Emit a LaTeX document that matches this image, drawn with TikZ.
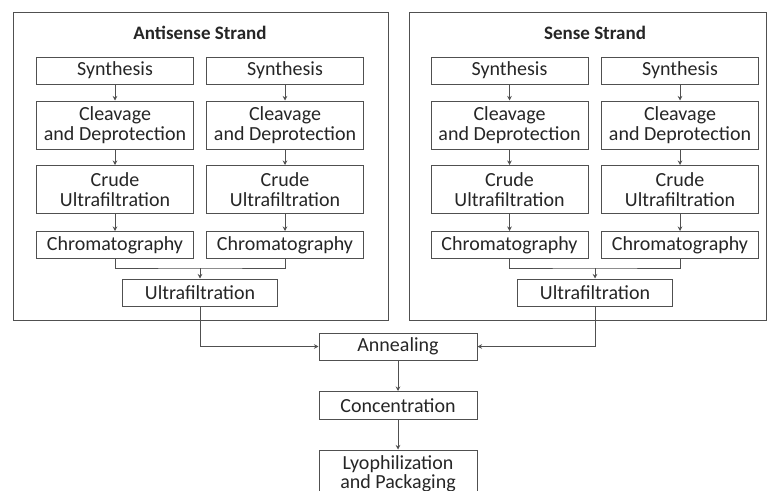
\documentclass[tikz,border=0pt]{standalone}
\usepackage{fontspec}
\setmainfont{Carlito}
\usetikzlibrary{arrows.meta}
\definecolor{linegray}{HTML}{505050}
\definecolor{textgray}{HTML}{262626}

\begin{document}
\begin{tikzpicture}[x=1pt,y=-1pt,
    stagebox/.style={draw=linegray,
        line width=1pt,
        minimum width=157pt,
        minimum height=27pt,
        align=center,
        text=textgray,
        inner sep=1pt,
        font=\fontsize{20}{19.5}\selectfont},
    tallbox/.style={stagebox, minimum height=48pt},
    flow/.style={draw=linegray, line width=0.8pt},
    flowarrow/.style={flow, -{Stealth[length=4.5pt,width=4.5pt]}}]

\clip (0,0) rectangle (767,490);
\fill[white] (0,0) rectangle (767,490);

% Strand frames
\draw[linegray, line width=1pt] (13,12) rectangle (388,320);
\draw[linegray, line width=1pt] (409,12) rectangle (766,320);
\node[text=textgray, font=\fontsize{19}{20}\selectfont\bfseries] (AT) at (200,33) {Antisense Strand};
\node[text=textgray, font=\fontsize{19}{20}\selectfont\bfseries] (ST) at (595,33) {Sense Strand};

% Antisense columns
\node[stagebox] (AS1) at (115,70.5) {Synthesis};
\node[tallbox] (AC1) at (115,125) {Cleavage\\and Deprotection};
\node[tallbox] (AU1) at (115,189.5) {Crude\\Ultrafiltration};
\node[stagebox] (AH1) at (115,245) {Chromatography};

\node[stagebox] (AS2) at (285,70.5) {Synthesis};
\node[tallbox] (AC2) at (285,125) {Cleavage\\and Deprotection};
\node[tallbox] (AU2) at (285,189.5) {Crude\\Ultrafiltration};
\node[stagebox] (AH2) at (285,245) {Chromatography};

\node[stagebox, minimum width=155pt] (AF) at (200,292.5) {Ultrafiltration};

% Sense columns
\node[stagebox] (SS1) at (509.5,70.5) {Synthesis};
\node[tallbox] (SC1) at (509.5,125) {Cleavage\\and Deprotection};
\node[tallbox] (SU1) at (509.5,189.5) {Crude\\Ultrafiltration};
\node[stagebox] (SH1) at (509.5,245) {Chromatography};

\node[stagebox] (SS2) at (680,70.5) {Synthesis};
\node[tallbox] (SC2) at (680,125) {Cleavage\\and Deprotection};
\node[tallbox] (SU2) at (680,189.5) {Crude\\Ultrafiltration};
\node[stagebox] (SH2) at (680,245) {Chromatography};

\node[stagebox, minimum width=155pt] (SF) at (595,292.5) {Ultrafiltration};

% Common steps
\node[stagebox, minimum width=158pt] (AN) at (398,346.5) {Annealing};
\node[stagebox, minimum width=158pt, minimum height=28pt] (CO) at (398,405.5) {Concentration};
\node[tallbox, minimum width=158pt] (LY) at (398,474) {Lyophilization\\and Packaging};

% Column arrows
\foreach \col in {AS1/AC1/AU1/AH1, AS2/AC2/AU2/AH2, SS1/SC1/SU1/SH1, SS2/SC2/SU2/SH2} {
    \foreach \a/\b/\c/\d in \col {
        \draw[flowarrow] (\a) -- (\b);
        \draw[flowarrow] (\b) -- (\c);
        \draw[flowarrow] (\c) -- (\d);
    }
}

% Merging brackets
\coordinate (AM) at (200,268);
\coordinate (SM) at (595,268);
\draw[flow] (AH1.south) |- (AM) -| (AH2.south);
\draw[flowarrow] (AM) -- (AF.north);
\draw[flow] (SH1.south) |- (SM) -| (SH2.south);
\draw[flowarrow] (SM) -- (SF.north);

% Into annealing
\draw[flowarrow] (AF.south) |- (AN.west);
\draw[flowarrow] (SF.south) |- (AN.east);
\draw[flowarrow] (AN) -- (CO);
\draw[flowarrow] (CO) -- (LY);

\end{tikzpicture}
\end{document}
